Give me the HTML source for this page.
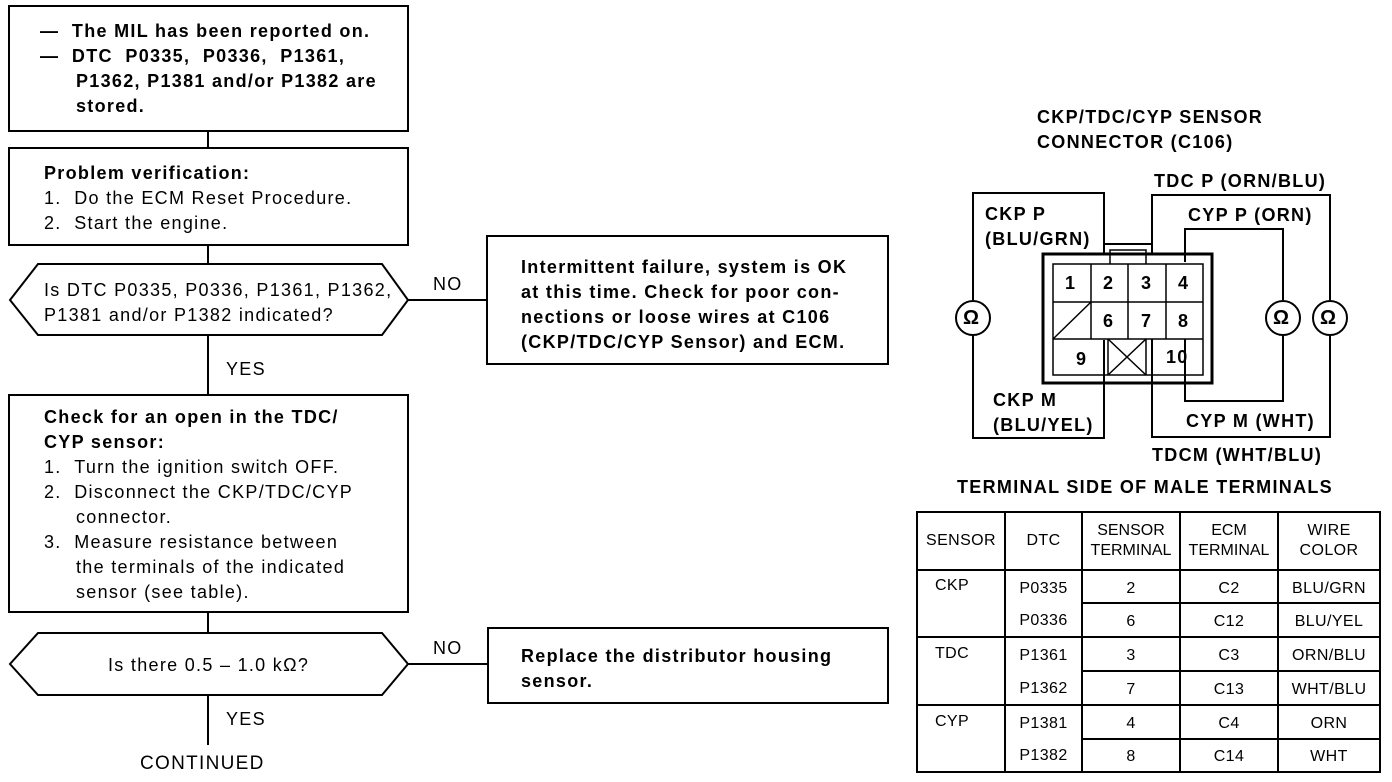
<!DOCTYPE html>
<html><head><style>
body{margin:0;width:1392px;height:782px;background:#fff;position:relative;overflow:hidden;font-family:"Liberation Sans",Arial,sans-serif;color:#000}
.t{position:absolute;font-size:18px;line-height:25px;white-space:nowrap;letter-spacing:1.3px}
.b{font-weight:bold}
svg{position:absolute;left:0;top:0}
.c{position:absolute;font-size:16px;text-align:center;letter-spacing:0.4px}
</style></head><body>
<svg width="1392" height="782" fill="none" stroke="#000" stroke-width="2">
<rect x="9" y="6" width="399" height="125"/>
<line x1="208" y1="131" x2="208" y2="148"/>
<rect x="9" y="148" width="399" height="97"/>
<line x1="208" y1="245" x2="208" y2="264"/>
<polygon points="38,264 382,264 408,300 382,335 38,335 10,300"/>
<line x1="408" y1="300" x2="488" y2="300"/>
<rect x="487" y="236" width="401" height="128"/>
<line x1="208" y1="335" x2="208" y2="395"/>
<rect x="9" y="395" width="399" height="217"/>
<line x1="208" y1="612" x2="208" y2="633"/>
<polygon points="38,633 382,633 408,664 382,695 38,695 10,664"/>
<line x1="408" y1="664" x2="488" y2="664"/>
<rect x="488" y="628" width="400" height="75"/>
<line x1="208" y1="695" x2="208" y2="745"/>
<!-- connector -->
<polyline points="1104,248 1104,193 973,193 973,300"/>
<polyline points="973,336 973,438 1104,438 1104,340"/>
<circle cx="973" cy="318" r="17"/>
<rect x="1043" y="254" width="169" height="129" stroke-width="3"/>
<polyline points="1104,254 1104,244 1152,244 1152,254" />
<polyline points="1110,264 1110,250 1146,250 1146,264" stroke-width="1.5"/>
<g stroke-width="1.5">
<rect x="1053" y="264" width="150" height="111"/>
<line x1="1053" y1="302" x2="1203" y2="302"/>
<line x1="1053" y1="339" x2="1203" y2="339"/>
<line x1="1091" y1="264" x2="1091" y2="339"/>
<line x1="1128" y1="264" x2="1128" y2="339"/>
<line x1="1166" y1="264" x2="1166" y2="339"/>
<line x1="1108" y1="339" x2="1108" y2="375"/>
<line x1="1146" y1="339" x2="1146" y2="375"/>
<line x1="1053" y1="339" x2="1091" y2="302"/>
<line x1="1108" y1="339" x2="1146" y2="375"/>
<line x1="1146" y1="339" x2="1108" y2="375"/>
</g>
<polyline points="1152,254 1152,195 1330,195 1330,300"/>
<polyline points="1330,336 1330,437 1152,437 1152,339"/>
<circle cx="1330" cy="318" r="17"/>
<polyline points="1185,262 1185,229 1283,229 1283,300"/>
<polyline points="1283,336 1283,401 1185,401 1185,339"/>
<circle cx="1283" cy="318" r="17"/>
<!-- table -->
<rect x="917" y="512" width="463" height="260"/>
<line x1="917" y1="570" x2="1380" y2="570"/>
<line x1="917" y1="637" x2="1380" y2="637"/>
<line x1="917" y1="705" x2="1380" y2="705"/>
<line x1="1082" y1="603" x2="1380" y2="603"/>
<line x1="1082" y1="671" x2="1380" y2="671"/>
<line x1="1082" y1="739" x2="1380" y2="739"/>
<line x1="1005" y1="512" x2="1005" y2="772"/>
<line x1="1082" y1="512" x2="1082" y2="772"/>
<line x1="1180" y1="512" x2="1180" y2="772"/>
<line x1="1278" y1="512" x2="1278" y2="772"/>
</svg>
<div class="t b" style="left:40px;top:19px">— &nbsp;The MIL has been reported on.<br>— &nbsp;DTC &nbsp;P0335, &nbsp;P0336, &nbsp;P1361,<br><span style="padding-left:36px">P1362, P1381 and/or P1382 are</span><br><span style="padding-left:36px">stored.</span></div>
<div class="t" style="left:44px;top:161px"><b>Problem verification:</b><br>1. &nbsp;Do the ECM Reset Procedure.<br>2. &nbsp;Start the engine.</div>
<div class="t" style="left:44px;top:278px">Is DTC P0335, P0336, P1361, P1362,<br>P1381 and/or P1382 indicated?</div>
<div class="t" style="left:433px;top:272px">NO</div>
<div class="t b" style="left:521px;top:255px">Intermittent failure, system is OK<br>at this time. Check for poor con-<br>nections or loose wires at C106<br>(CKP/TDC/CYP Sensor) and ECM.</div>
<div class="t" style="left:226px;top:357px">YES</div>
<div class="t" style="left:44px;top:405px"><b>Check for an open in the TDC/<br>CYP sensor:</b><br>1. &nbsp;Turn the ignition switch OFF.<br>2. &nbsp;Disconnect the CKP/TDC/CYP<br><span style="padding-left:32px">connector.</span><br>3. &nbsp;Measure resistance between<br><span style="padding-left:32px">the terminals of the indicated</span><br><span style="padding-left:32px">sensor (see table).</span></div>
<div class="t" style="left:108px;top:653px">Is there 0.5 – 1.0 kΩ?</div>
<div class="t" style="left:433px;top:636px">NO</div>
<div class="t b" style="left:521px;top:644px">Replace the distributor housing<br>sensor.</div>
<div class="t" style="left:226px;top:707px">YES</div>
<div class="t" style="left:140px;top:751px;font-size:19px">CONTINUED</div>
<div class="t b" style="left:1037px;top:105px">CKP/TDC/CYP SENSOR<br>CONNECTOR (C106)</div>
<div class="t b" style="left:1154px;top:169px">TDC P (ORN/BLU)</div>
<div class="t b" style="left:985px;top:202px">CKP P<br>(BLU/GRN)</div>
<div class="t b" style="left:1188px;top:203px">CYP P (ORN)</div>
<div class="t b" style="left:993px;top:388px">CKP M<br>(BLU/YEL)</div>
<div class="t b" style="left:1186px;top:409px">CYP M (WHT)</div>
<div class="t b" style="left:1152px;top:443px">TDCM (WHT/BLU)</div>
<div class="t b" style="left:957px;top:475px">TERMINAL SIDE OF MALE TERMINALS</div>
<div class="t b" style="left:963px;top:306px;font-size:20px">Ω</div>
<div class="t b" style="left:1273px;top:306px;font-size:20px">Ω</div>
<div class="t b" style="left:1320px;top:306px;font-size:20px">Ω</div>
<div class="t b" style="left:1065px;top:271px">1</div><div class="t b" style="left:1103px;top:271px">2</div><div class="t b" style="left:1141px;top:271px">3</div><div class="t b" style="left:1178px;top:271px">4</div>
<div class="t b" style="left:1103px;top:309px">6</div><div class="t b" style="left:1141px;top:309px">7</div><div class="t b" style="left:1178px;top:309px">8</div>
<div class="t b" style="left:1076px;top:347px">9</div><div class="t b" style="left:1166px;top:345px">10</div>
<div class="c" style="left:917px;top:532px;width:88px">SENSOR</div>
<div class="c" style="left:1005px;top:532px;width:77px">DTC</div>
<div class="c" style="left:1082px;top:521px;width:98px;line-height:20px;letter-spacing:0">SENSOR<br>TERMINAL</div>
<div class="c" style="left:1180px;top:521px;width:98px;line-height:20px;letter-spacing:0">ECM<br>TERMINAL</div>
<div class="c" style="left:1278px;top:521px;width:102px;line-height:20px">WIRE<br>COLOR</div>
<div class="c" style="left:917px;top:577px;width:70px">CKP</div>
<div class="c" style="left:917px;top:645px;width:70px">TDC</div>
<div class="c" style="left:917px;top:713px;width:70px">CYP</div>
<div class="c" style="left:1005px;top:580px;width:77px">P0335</div>
<div class="c" style="left:1005px;top:612px;width:77px">P0336</div>
<div class="c" style="left:1005px;top:647px;width:77px">P1361</div>
<div class="c" style="left:1005px;top:680px;width:77px">P1362</div>
<div class="c" style="left:1005px;top:715px;width:77px">P1381</div>
<div class="c" style="left:1005px;top:747px;width:77px">P1382</div>
<div class="c" style="left:1082px;top:580px;width:98px">2</div>
<div class="c" style="left:1082px;top:613px;width:98px">6</div>
<div class="c" style="left:1082px;top:647px;width:98px">3</div>
<div class="c" style="left:1082px;top:681px;width:98px">7</div>
<div class="c" style="left:1082px;top:715px;width:98px">4</div>
<div class="c" style="left:1082px;top:748px;width:98px">8</div>
<div class="c" style="left:1180px;top:580px;width:98px">C2</div>
<div class="c" style="left:1180px;top:613px;width:98px">C12</div>
<div class="c" style="left:1180px;top:647px;width:98px">C3</div>
<div class="c" style="left:1180px;top:681px;width:98px">C13</div>
<div class="c" style="left:1180px;top:715px;width:98px">C4</div>
<div class="c" style="left:1180px;top:748px;width:98px">C14</div>
<div class="c" style="left:1278px;top:580px;width:102px">BLU/GRN</div>
<div class="c" style="left:1278px;top:613px;width:102px">BLU/YEL</div>
<div class="c" style="left:1278px;top:647px;width:102px">ORN/BLU</div>
<div class="c" style="left:1278px;top:681px;width:102px">WHT/BLU</div>
<div class="c" style="left:1278px;top:715px;width:102px">ORN</div>
<div class="c" style="left:1278px;top:748px;width:102px">WHT</div>
</body></html>
